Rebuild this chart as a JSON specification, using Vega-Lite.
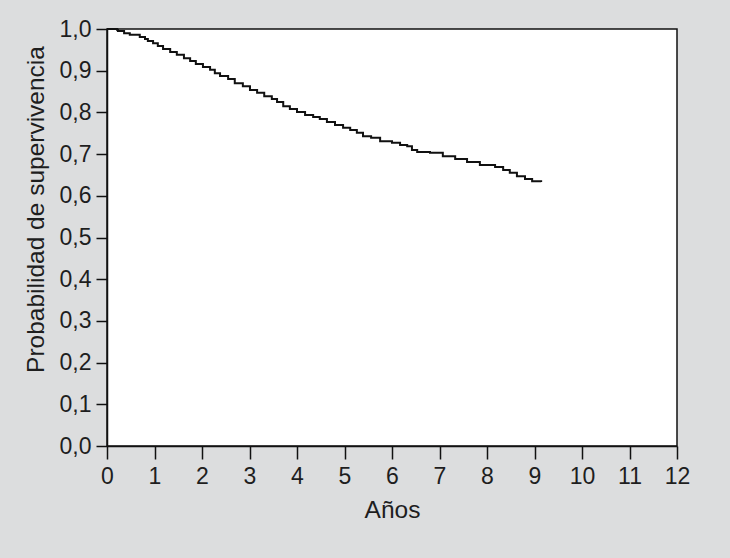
{
  "$schema": "https://vega.github.io/schema/vega-lite/v6.json",
  "width": 570,
  "height": 417,
  "autosize": {"type": "none"},
  "padding": {"left": 107, "top": 29, "right": 53, "bottom": 112},
  "background": "#dcddde",
  "config": {
    "view": {"fill": "white", "stroke": "#111111", "strokeWidth": 1.5},
    "axis": {
      "domainColor": "#111111", "domainWidth": 1.5,
      "tickColor": "#111111", "tickWidth": 1.5,
      "labelFont": "Liberation Sans", "labelFontSize": 23, "labelColor": "#1e1e1e",
      "titleFont": "Liberation Sans", "titleFontSize": 24.5, "titleFontWeight": "normal", "titleColor": "#1e1e1e",
      "grid": false
    }
  },
  "data": {
    "values": [
      {"t": 0.00, "s": 1.000},
      {"t": 0.21, "s": 0.998},
      {"t": 0.23, "s": 0.995},
      {"t": 0.36, "s": 0.990},
      {"t": 0.48, "s": 0.986},
      {"t": 0.69, "s": 0.981},
      {"t": 0.80, "s": 0.976},
      {"t": 0.86, "s": 0.971},
      {"t": 0.97, "s": 0.966},
      {"t": 1.07, "s": 0.959},
      {"t": 1.18, "s": 0.952},
      {"t": 1.33, "s": 0.945},
      {"t": 1.47, "s": 0.938},
      {"t": 1.62, "s": 0.930},
      {"t": 1.75, "s": 0.923},
      {"t": 1.87, "s": 0.916},
      {"t": 2.02, "s": 0.909},
      {"t": 2.17, "s": 0.902},
      {"t": 2.27, "s": 0.894},
      {"t": 2.38, "s": 0.887},
      {"t": 2.55, "s": 0.880},
      {"t": 2.69, "s": 0.870},
      {"t": 2.86, "s": 0.863},
      {"t": 3.01, "s": 0.854},
      {"t": 3.16, "s": 0.847},
      {"t": 3.31, "s": 0.839},
      {"t": 3.47, "s": 0.832},
      {"t": 3.58, "s": 0.825},
      {"t": 3.71, "s": 0.815},
      {"t": 3.85, "s": 0.808},
      {"t": 4.00, "s": 0.801},
      {"t": 4.17, "s": 0.794},
      {"t": 4.34, "s": 0.789},
      {"t": 4.48, "s": 0.784},
      {"t": 4.63, "s": 0.777},
      {"t": 4.80, "s": 0.770},
      {"t": 4.97, "s": 0.763},
      {"t": 5.12, "s": 0.758},
      {"t": 5.26, "s": 0.751},
      {"t": 5.39, "s": 0.743},
      {"t": 5.56, "s": 0.739},
      {"t": 5.75, "s": 0.731},
      {"t": 6.00, "s": 0.727},
      {"t": 6.17, "s": 0.722},
      {"t": 6.32, "s": 0.719},
      {"t": 6.42, "s": 0.710},
      {"t": 6.53, "s": 0.705},
      {"t": 6.80, "s": 0.703},
      {"t": 7.07, "s": 0.695},
      {"t": 7.33, "s": 0.688},
      {"t": 7.58, "s": 0.681},
      {"t": 7.85, "s": 0.674},
      {"t": 8.17, "s": 0.669},
      {"t": 8.34, "s": 0.662},
      {"t": 8.48, "s": 0.655},
      {"t": 8.63, "s": 0.647},
      {"t": 8.80, "s": 0.640},
      {"t": 8.95, "s": 0.635},
      {"t": 9.14, "s": 0.633}
    ]
  },
  "mark": {"type": "line", "interpolate": "step-after", "color": "#111111", "strokeWidth": 2},
  "encoding": {
    "x": {
      "field": "t", "type": "quantitative",
      "scale": {"domain": [0, 12], "nice": false, "zero": false},
      "axis": {"title": "Años", "values": [0,1,2,3,4,5,6,7,8,9,10,11,12], "tickSize": 13, "labelPadding": 6, "titlePadding": 10, "labelFlush": false}
    },
    "y": {
      "field": "s", "type": "quantitative",
      "scale": {"domain": [0, 1], "nice": false},
      "axis": {
        "title": "Probabilidad de supervivencia",
        "values": [0,0.1,0.2,0.3,0.4,0.5,0.6,0.7,0.8,0.9,1],
        "labelExpr": "replace(format(datum.value, '.1f'), '.', ',')",
        "tickSize": 11, "labelPadding": 5, "titlePadding": 11, "titleY": 180, "labelFlush": false
      }
    }
  }
}
